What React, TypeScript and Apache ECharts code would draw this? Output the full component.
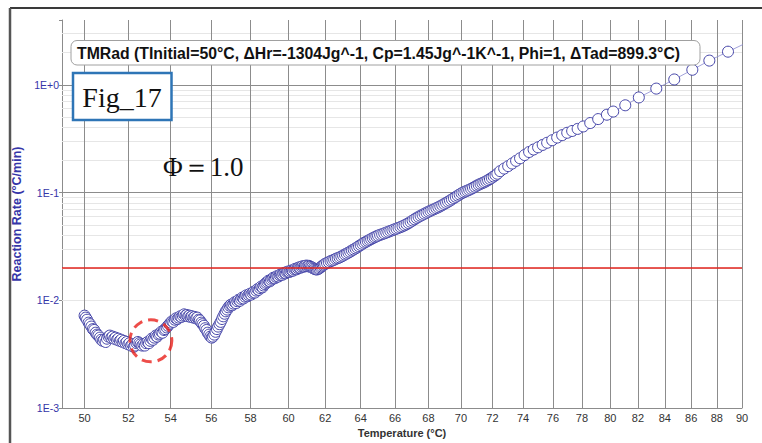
import { useEffect, useRef } from 'react';
import * as echarts from 'echarts';

// Measured self-heating rate versus temperature (°C, °C/min)
const temperatureC = [
  50.0, 50.05, 50.11, 50.18, 50.24, 50.3, 50.37, 50.43, 50.5, 50.56, 50.62, 50.69, 50.75, 50.82, 50.88, 50.95,
  51.01, 51.08, 51.14, 51.21, 51.27, 51.34, 51.4, 51.47, 51.53, 51.6, 51.66, 51.73, 51.79, 51.86, 51.92, 51.99,
  52.05, 52.12, 52.18, 52.25, 52.31, 52.38, 52.44, 52.51, 52.57, 52.64, 52.7, 52.77, 52.83, 52.9, 52.96,
  53.03, 53.09, 53.16, 53.22, 53.29, 53.35, 53.42, 53.48, 53.55, 53.61, 53.68, 53.74, 53.81, 53.87, 53.94,
  54.0, 54.07, 54.13, 54.2, 54.26, 54.33, 54.39, 54.46, 54.52, 54.59, 54.65, 54.72, 54.78, 54.85, 54.91, 54.98,
  55.04, 55.11, 55.17, 55.24, 55.3, 55.37, 55.43, 55.5, 55.56, 55.63, 55.69, 55.76, 55.82, 55.89, 55.95,
  56.02, 56.08, 56.15, 56.21, 56.28, 56.34, 56.41, 56.47, 56.54, 56.6, 56.67, 56.73, 56.8, 56.86, 56.93, 56.99,
  57.06, 57.12, 57.19, 57.25, 57.32, 57.38, 57.45, 57.51, 57.58, 57.64, 57.71, 57.77, 57.84, 57.9, 57.97,
  58.03, 58.1, 58.16, 58.23, 58.29, 58.36, 58.42, 58.49, 58.55, 58.62, 58.68, 58.75, 58.81, 58.88, 58.94,
  59.01, 59.07, 59.14, 59.2, 59.27, 59.33, 59.4, 59.46, 59.53, 59.59, 59.66, 59.72, 59.79, 59.85, 59.92, 59.98,
  60.05, 60.11, 60.18, 60.24, 60.31, 60.37, 60.44, 60.5, 60.57, 60.63, 60.7, 60.76, 60.83, 60.89, 60.96,
  61.02, 61.09, 61.15, 61.22, 61.28, 61.35, 61.41, 61.48, 61.54, 61.61, 61.67, 61.74, 61.8, 61.87, 61.93,
  62.0, 62.1, 62.2, 62.3, 62.4, 62.5, 62.6, 62.7, 62.8, 62.9, 63.0, 63.1, 63.2, 63.3, 63.4, 63.5, 63.6, 63.7,
  63.8, 63.9, 64.0, 64.1, 64.2, 64.3, 64.4, 64.5, 64.6, 64.7, 64.8, 64.9, 65.0, 65.12, 65.24, 65.36, 65.48,
  65.6, 65.72, 65.84, 65.96, 66.08, 66.2, 66.32, 66.44, 66.56, 66.68, 66.8, 66.92, 67.04, 67.16, 67.28, 67.4,
  67.52, 67.64, 67.76, 67.88, 68.0, 68.12, 68.24, 68.36, 68.48, 68.6, 68.72, 68.84, 68.96, 69.08, 69.2, 69.32,
  69.44, 69.56, 69.68, 69.8, 69.92, 70.04, 70.16, 70.28, 70.4, 70.52, 70.64, 70.76, 70.88, 71.0, 71.12, 71.24,
  71.36, 71.48, 71.6, 71.72, 71.84, 71.96, 72.08, 72.2, 72.32, 72.5, 72.76, 73.02, 73.28, 73.54, 73.8, 74.1,
  74.4, 74.7, 75.0, 75.31, 75.61, 75.95, 76.29, 76.63, 76.98, 77.32, 77.7, 78.09, 78.58, 79.14, 79.76, 80.21,
  81.08, 82.07, 83.36, 84.71, 86.09, 87.41, 88.88, 90.45,
];

const reactionRate = [
  0.0072, 0.0069, 0.0066, 0.0062, 0.006, 0.0057, 0.0054, 0.0053, 0.005, 0.0048, 0.0047, 0.0045, 0.0043, 0.0042, 0.0043, 0.0041,
  0.0044, 0.0046, 0.0047, 0.0045, 0.0046, 0.0044, 0.0045, 0.0043, 0.0044, 0.0042, 0.0043, 0.0041, 0.0042, 0.004, 0.0041, 0.0039,
  0.004, 0.0038, 0.0039, 0.0037, 0.0038, 0.004, 0.0041, 0.004, 0.0039, 0.0038, 0.0039, 0.0038, 0.004, 0.0041, 0.004,
  0.0042, 0.0044, 0.0043, 0.0045, 0.0047, 0.0046, 0.0048, 0.0049, 0.0051, 0.005, 0.0053, 0.0054, 0.0056, 0.0058, 0.006,
  0.0062, 0.0064, 0.0063, 0.0066, 0.0068, 0.0067, 0.0069, 0.0071, 0.007, 0.0072, 0.0074, 0.0072, 0.0073, 0.0071, 0.0072, 0.007,
  0.0071, 0.0069, 0.007, 0.0068, 0.0069, 0.0066, 0.0065, 0.0062, 0.006, 0.0058, 0.0055, 0.0053, 0.005, 0.0048, 0.0046,
  0.0045, 0.0046, 0.0048, 0.0051, 0.0054, 0.0057, 0.006, 0.0063, 0.0067, 0.0071, 0.0075, 0.0079, 0.0082, 0.0086, 0.0089, 0.0091,
  0.009, 0.0093, 0.0096, 0.0094, 0.0098, 0.0101, 0.0099, 0.0103, 0.0106, 0.0104, 0.0108, 0.0111, 0.0109, 0.0112, 0.0115,
  0.0113, 0.0117, 0.012, 0.0118, 0.0123, 0.0127, 0.0125, 0.013, 0.0134, 0.0132, 0.0137, 0.0141, 0.0145, 0.0148, 0.0152,
  0.015, 0.0155, 0.0159, 0.0162, 0.016, 0.0165, 0.0168, 0.0166, 0.0171, 0.0174, 0.0172, 0.0177, 0.018, 0.0178, 0.0183, 0.0185,
  0.0183, 0.0187, 0.019, 0.0188, 0.0193, 0.0196, 0.0194, 0.0199, 0.0202, 0.02, 0.0204, 0.0207, 0.0205, 0.0208, 0.021,
  0.0207, 0.0209, 0.0206, 0.0204, 0.0201, 0.0198, 0.0196, 0.0194, 0.0193, 0.0195, 0.0198, 0.0202, 0.0206, 0.021, 0.0214,
  0.0218, 0.0222, 0.0226, 0.0231, 0.0234, 0.0238, 0.0243, 0.0246, 0.025, 0.0255, 0.026, 0.0266, 0.0271, 0.0277, 0.0283, 0.029, 0.0296, 0.0303,
  0.031, 0.0318, 0.0326, 0.0334, 0.0342, 0.0349, 0.0356, 0.0363, 0.037, 0.0378, 0.0385, 0.0392, 0.0398, 0.0405, 0.0411, 0.0418, 0.0425,
  0.0432, 0.044, 0.0447, 0.0455, 0.0462, 0.047, 0.0478, 0.0487, 0.0497, 0.0508, 0.0521, 0.0535, 0.055, 0.0565, 0.0581, 0.0595,
  0.0609, 0.0622, 0.0636, 0.065, 0.0664, 0.0677, 0.069, 0.0703, 0.0717, 0.0731, 0.0747, 0.0764, 0.0783, 0.0802, 0.0822, 0.0842,
  0.0864, 0.0888, 0.0912, 0.0936, 0.096, 0.0985, 0.1005, 0.1024, 0.1042, 0.106, 0.1082, 0.1106, 0.1132, 0.1158, 0.1182, 0.1204,
  0.1225, 0.1248, 0.1274, 0.1303, 0.1336, 0.1372, 0.141, 0.145, 0.1495, 0.158, 0.167, 0.176, 0.186, 0.197, 0.208, 0.223,
  0.238, 0.251, 0.263, 0.277, 0.29, 0.306, 0.324, 0.341, 0.359, 0.373, 0.39, 0.411, 0.442, 0.481, 0.528, 0.565,
  0.646, 0.764, 0.923, 1.122, 1.38, 1.679, 2.032, 2.483,
];

// Axis tick labels and grid positions
const temperatureTicks = [50, 52, 54, 56, 58, 60, 62, 64, 66, 68, 70, 72, 74, 76, 78, 80, 82, 84, 86, 88, 90];
const minorRateLines = [
  0.002, 0.003, 0.004, 0.005, 0.006, 0.007, 0.008, 0.009,
  0.02, 0.03, 0.04, 0.05, 0.06, 0.07, 0.08, 0.09,
  0.2, 0.3, 0.4, 0.5, 0.6, 0.7, 0.8, 0.9,
  2, 3,
];
const rateLimit = 0.02;
const circledPoint = [53.05, 0.0042];

const titleText = 'TMRad (TInitial=50°C, ΔHr=-1304Jg^-1, Cp=1.45Jg^-1K^-1, Phi=1, ΔTad=899.3°C)';
const figText = 'Fig_17';
const phiText = 'Φ＝1.0';

const SANS = '"Liberation Sans", Arial, sans-serif';
const SERIF = '"Liberation Serif", "Times New Roman", serif';

function rateLabel(v: number): string {
  const lg = Math.log10(v);
  const e = Math.round(lg);
  if (Math.abs(lg - e) > 1e-6) return '';
  return '1E' + (e >= 0 ? '+' : '-') + Math.abs(e);
}

export default function App() {
  const ref = useRef<HTMLDivElement>(null);

  useEffect(() => {
    const chart = echarts.init(ref.current!, null, { renderer: 'svg' });
    const points = temperatureC.map((t, i) => [t, reactionRate[i]]);

    chart.setOption({
      animation: false,
      backgroundColor: '#ffffff',
      grid: { left: 62, right: 20, top: 20, bottom: 34 },
      xAxis: {
        type: 'log',
        logBase: 10,
        min: 49,
        max: 90,
        axisLine: { show: true, lineStyle: { color: '#8c8c8c', width: 1 } },
        axisTick: { show: false },
        axisLabel: { show: false },
        splitLine: { show: false },
        name: 'Temperature (°C)',
        nameLocation: 'middle',
        nameGap: 19,
        nameTextStyle: { fontFamily: SANS, fontSize: 11, fontWeight: 'bold', color: '#333' },
      },
      yAxis: {
        type: 'log',
        logBase: 10,
        min: 0.001,
        max: 4,
        axisLine: { show: true, lineStyle: { color: '#8c8c8c', width: 1 } },
        axisTick: { show: true, length: 3, lineStyle: { color: '#8c8c8c' } },
        axisLabel: { formatter: rateLabel, color: '#3535a8', fontFamily: SANS, fontSize: 10.5, margin: 3 },
        splitLine: { show: true, showMaxLine: false, lineStyle: { color: '#8c8c8c', width: 1 } },
        name: 'Reaction Rate (°C/min)',
        nameLocation: 'middle',
        nameGap: 26,
        nameTextStyle: { fontFamily: SANS, fontSize: 12.5, fontWeight: 'bold', color: '#3535a8' },
      },
      series: [
        {
          // grid: faint minor rate lines and temperature lines with their labels
          type: 'line',
          data: [],
          z: 1,
          silent: true,
          markLine: {
            z: 1,
            silent: true,
            symbol: ['none', 'none'],
            animation: false,
            emphasis: { disabled: true },
            data: [
              ...minorRateLines.map((v) => ({
                yAxis: v,
                lineStyle: { color: '#e6e6e6', width: 1, type: 'solid' },
                label: { show: false },
              })),
              ...temperatureTicks.map((t) => ({
                xAxis: t,
                lineStyle: { color: '#8c8c8c', width: 1, type: 'solid' },
                label: {
                  show: true,
                  position: 'start',
                  distance: 4,
                  formatter: String(t),
                  color: '#333',
                  fontFamily: SANS,
                  fontSize: 11,
                },
              })),
            ],
          },
        },
        {
          type: 'line',
          data: points,
          z: 3,
          silent: true,
          clip: true,
          symbol: 'circle',
          symbolSize: 11,
          showAllSymbol: true,
          lineStyle: { color: '#8a8ad0', width: 0.8 },
          itemStyle: { color: '#ffffff', borderColor: '#4444a8', borderWidth: 1 },
        },
        {
          type: 'line',
          data: [],
          z: 6,
          silent: true,
          markLine: {
            z: 6,
            silent: true,
            symbol: ['none', 'none'],
            animation: false,
            label: { show: false },
            lineStyle: { color: '#e2231c', width: 1.6, type: 'solid' },
            data: [{ yAxis: rateLimit }],
          },
        },
        {
          type: 'scatter',
          data: [circledPoint],
          z: 7,
          silent: true,
          symbol: 'circle',
          symbolSize: 42,
          itemStyle: {
            color: 'rgba(0,0,0,0)',
            borderColor: '#e8211c',
            borderWidth: 3,
            borderType: [10, 6],
          },
        },
      ],
      graphic: [
        {
          type: 'line',
          z: 20,
          shape: { x1: 10, y1: 8, x2: 762, y2: 8 },
          style: { stroke: '#3a3a3a', lineWidth: 2 },
        },
        {
          type: 'line',
          z: 20,
          shape: { x1: 10, y1: 8, x2: 10, y2: 443 },
          style: { stroke: '#555', lineWidth: 2.5 },
        },
        {
          type: 'rect',
          z: 20,
          shape: { x: 71, y: 40.5, width: 629, height: 24.5, r: 6 },
          style: { fill: '#ffffff', stroke: '#a0a0a0', lineWidth: 1 },
        },
        {
          type: 'text',
          z: 21,
          x: 77,
          y: 53,
          style: {
            text: titleText,
            fontFamily: SANS,
            fontSize: 15.8,
            fontWeight: 'bold',
            fill: '#111',
            verticalAlign: 'middle',
            align: 'left',
          },
        },
        {
          type: 'rect',
          z: 20,
          shape: { x: 73, y: 73, width: 98.5, height: 47 },
          style: { fill: '#ffffff', stroke: '#2e75b6', lineWidth: 2.5 },
        },
        {
          type: 'text',
          z: 21,
          x: 122,
          y: 97,
          style: {
            text: figText,
            fontFamily: SERIF,
            fontSize: 28,
            fill: '#111',
            align: 'center',
            verticalAlign: 'middle',
          },
        },
        {
          type: 'text',
          z: 21,
          x: 163,
          y: 167,
          style: {
            text: phiText,
            fontFamily: SERIF,
            fontSize: 27,
            fill: '#111',
            align: 'left',
            verticalAlign: 'middle',
          },
        },
      ],
    });

    return () => chart.dispose();
  }, []);

  return (
    <div
      ref={ref}
      style={{ position: 'fixed', left: 0, top: 0, width: 762, height: 443, background: '#fff' }}
    />
  );
}
